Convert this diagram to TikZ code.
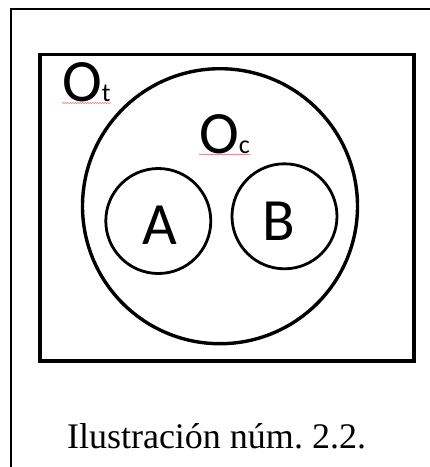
\documentclass[tikz,border=0pt]{standalone}
\usepackage{fontspec}
\setmainfont{Liberation Serif}
\newfontfamily\calibri{Carlito}
\usetikzlibrary{decorations.pathmorphing}
\definecolor{subrayado}{RGB}{232,120,135}
\newcommand{\subind}[1]{{\fontsize{26}{26}\selectfont #1}}

\begin{document}
\begin{tikzpicture}[x=1pt, y=-1pt,
    conjunto/.style={draw, circle, inner sep=0pt},
    etiqueta/.style={font=\calibri\fontsize{60}{60}\selectfont, inner sep=0pt},
    corrector/.style={subrayado, line width=0.6pt, decorate,
      decoration={snake, amplitude=0.5pt, segment length=2.5pt}}]
  \useasboundingbox (0,0) rectangle (430,467);
  % marco de la ilustracion
  \draw[line width=2pt] (11,467) -- (11,9) -- (430,9);
  % universo
  \draw[line width=3.2pt] (40,54.5) rectangle (414,361);
  \node[conjunto, line width=3.4pt, minimum size=275pt] (Oc) at (220,206.2) {};
  \node[conjunto, line width=2.8pt, minimum size=105pt] (A) at (158.3,221) {};
  \node[conjunto, line width=2.8pt, minimum size=105pt] (B) at (284.5,216.3) {};
  % letras
  \node[etiqueta] (lA) at (160,225) {A};
  \node[etiqueta] (lB) at (279,221) {B};
  \node[etiqueta, anchor=base west] (Ot) at (62,101.5) {O\subind{t}};
  \node[etiqueta, anchor=base west] (Oct) at (199,153) {O\subind{c}};
  \draw[corrector] ([yshift=-1.5pt]Ot.base west) -- ([yshift=-1.5pt]Ot.base east);
  \draw[corrector] ([yshift=-1.5pt]Oct.base west) -- ([yshift=-1.5pt]Oct.base east);
  % pie
  \node[font=\fontsize{36}{36}\selectfont, anchor=base] (pie) at (216.5,448.3)
    {\frenchspacing Ilustración núm. 2.2.};
\end{tikzpicture}
\end{document}
